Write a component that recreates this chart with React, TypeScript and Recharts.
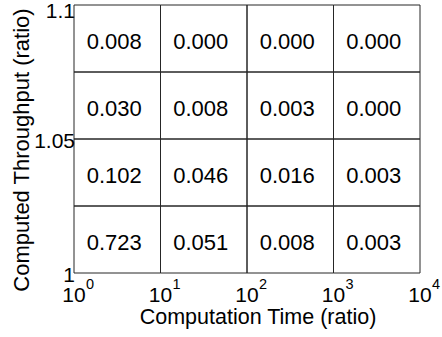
import React from "react";
import { Label, ReferenceArea, Scatter, ScatterChart, XAxis, YAxis } from "recharts";

const FONT = "'Liberation Sans', Arial, sans-serif";

const xEdges = [1, 10, 100, 1000, 10000];
const yEdges = [1, 1.025, 1.05, 1.075, 1.1];
const yTicks = [1, 1.05, 1.1];
const xExponents = ["0", "1", "2", "3", "4"];

// share of runs per cell, bottom row first
const row1 = [0.723, 0.051, 0.008, 0.003];
const row2 = [0.102, 0.046, 0.016, 0.003];
const row3 = [0.03, 0.008, 0.003, 0.0];
const row4 = [0.008, 0.0, 0.0, 0.0];
const rows = [row1, row2, row3, row4];

const cells = rows.flatMap((row, j) =>
  row.map((value, i) => ({
    x: Math.sqrt(xEdges[i] * xEdges[i + 1]),
    y: (yEdges[j] + yEdges[j + 1]) / 2,
    x1: xEdges[i],
    x2: xEdges[i + 1],
    y1: yEdges[j],
    y2: yEdges[j + 1],
    value,
  }))
);

const yShift: Record<string, number> = { "1": 1, "1.05": 1.5, "1.1": 5 };

const YTick = ({ x, y, payload }: any) => (
  <text
    x={x + 1}
    y={y + (yShift[String(payload.value)] ?? 0)}
    textAnchor="end"
    dominantBaseline="central"
    fontSize={21}
    fontFamily={FONT}
    fill="#000"
  >
    {String(payload.value)}
  </text>
);

const XTick = ({ x, y, index }: any) => (
  <g fontFamily={FONT} fill="#000">
    <text x={x} y={y + 28.5} textAnchor="middle" fontSize={21}>
      10
    </text>
    <text x={x + 12} y={y + 16} textAnchor="start" fontSize={14.5}>
      {xExponents[index]}
    </text>
  </g>
);

const CellText = ({ cx, cy, payload }: any) => (
  <text
    x={cx - 3}
    y={cy + 3}
    textAnchor="middle"
    dominantBaseline="central"
    fontSize={22}
    fontFamily={FONT}
    fill="#000"
  >
    {payload.value.toFixed(3)}
  </text>
);

const YLabel = ({ viewBox }: any) => {
  const cx = 28.5;
  const cy = viewBox.y + viewBox.height / 2 + 11;
  return (
    <text
      x={cx}
      y={cy}
      transform={`rotate(-90 ${cx} ${cy})`}
      textAnchor="middle"
      fontSize={22}
      fontFamily={FONT}
      fill="#000"
    >
      Computed Throughput (ratio)
    </text>
  );
};

const App: React.FC = () => {
  return (
    <div style={{ position: "absolute", left: 0, top: 0, background: "#fff" }}>
      <ScatterChart
        width={442}
        height={337}
        margin={{ top: 5, right: 22, bottom: 0, left: 0 }}
      >
        <XAxis
          type="number"
          dataKey="x"
          scale="log"
          domain={[1, 10000]}
          ticks={xEdges}
          allowDataOverflow
          height={64}
          axisLine={false}
          tickLine={false}
          tickSize={0}
          tickMargin={0}
          tick={<XTick />}
          interval={0}
        >
          <Label
            value="Computation Time (ratio)"
            position="insideBottom"
            offset={13}
            dx={11}
            fontSize={21.5}
            fontFamily={FONT}
            fill="#000"
          />
        </XAxis>
        <YAxis
          type="number"
          dataKey="y"
          domain={[1, 1.1]}
          ticks={yTicks}
          allowDataOverflow
          width={74}
          axisLine={false}
          tickLine={false}
          tickSize={0}
          tickMargin={0}
          tick={<YTick />}
          interval={0}
        >
          <Label content={<YLabel />} />
        </YAxis>
        {cells.map((c, k) => (
          <ReferenceArea
            key={k}
            x1={c.x1}
            x2={c.x2}
            y1={c.y1}
            y2={c.y2}
            fill="none"
            stroke="#262626"
            strokeWidth={1}
          />
        ))}
        <Scatter data={cells} shape={<CellText />} isAnimationActive={false} />
      </ScatterChart>
    </div>
  );
};

export default App;
